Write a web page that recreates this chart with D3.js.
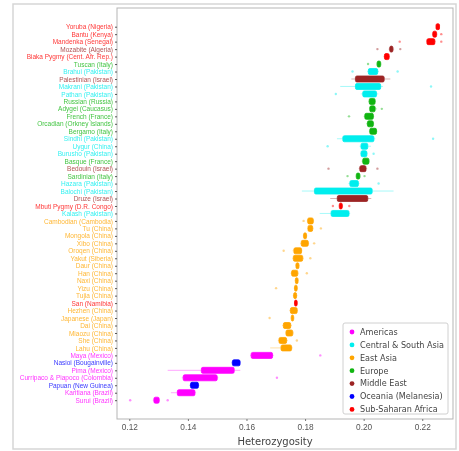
<!DOCTYPE html>
<html>
<head>
<meta charset="utf-8">
<script src="https://cdn.jsdelivr.net/npm/d3@7"></script>
<style>
  body { margin: 0; background: #fff; }
  svg { display: block; font-family: "DejaVu Sans", sans-serif; filter: blur(0.4px); }
</style>
</head>
<body>
<svg width="459" height="451"></svg>
<script>
// populations, top to bottom
const populations = [
  "Yoruba (Nigeria)", "Bantu (Kenya)", "Mandenka (Senegal)", "Mozabite (Algeria)",
  "Biaka Pygmy (Cent. Afr. Rep.)", "Tuscan (Italy)", "Brahui (Pakistan)", "Palestinian (Israel)",
  "Makrani (Pakistan)", "Pathan (Pakistan)", "Russian (Russia)", "Adygei (Caucasus)",
  "French (France)", "Orcadian (Orkney Islands)", "Bergamo (Italy)", "Sindhi (Pakistan)",
  "Uygur (China)", "Burusho (Pakistan)", "Basque (France)", "Bedouin (Israel)",
  "Sardinian (Italy)", "Hazara (Pakistan)", "Balochi (Pakistan)", "Druze (Israel)",
  "Mbuti Pygmy (D.R. Congo)", "Kalash (Pakistan)", "Cambodian (Cambodia)", "Tu (China)",
  "Mongola (China)", "Xibo (China)", "Oroqen (China)", "Yakut (Siberia)",
  "Daur (China)", "Han (China)", "Naxi (China)", "Yizu (China)",
  "Tujia (China)", "San (Namibia)", "Hezhen (China)", "Japanese (Japan)",
  "Dai (China)", "Miaozu (China)", "She (China)", "Lahu (China)",
  "Maya (Mexico)", "Nasioi (Bougainville)", "Pima (Mexico)", "Curripaco & Piapoco (Colombia)",
  "Papuan (New Guinea)", "Karitiana (Brazil)", "Surui (Brazil)"
];

const regions = [
  "Sub-Saharan Africa", "Sub-Saharan Africa", "Sub-Saharan Africa", "Middle East",
  "Sub-Saharan Africa", "Europe", "Central & South Asia", "Middle East",
  "Central & South Asia", "Central & South Asia", "Europe", "Europe",
  "Europe", "Europe", "Europe", "Central & South Asia",
  "Central & South Asia", "Central & South Asia", "Europe", "Middle East",
  "Europe", "Central & South Asia", "Central & South Asia", "Middle East",
  "Sub-Saharan Africa", "Central & South Asia", "East Asia", "East Asia",
  "East Asia", "East Asia", "East Asia", "East Asia",
  "East Asia", "East Asia", "East Asia", "East Asia",
  "East Asia", "Sub-Saharan Africa", "East Asia", "East Asia",
  "East Asia", "East Asia", "East Asia", "East Asia",
  "Americas", "Oceania (Melanesia)", "Americas", "Americas",
  "Oceania (Melanesia)", "Americas", "Americas"
];

// box statistics (heterozygosity)
const whiskerLow = [
  0.2247, 0.2233, 0.2214, 0.2085, 0.2068, 0.2043, 0.2012, 0.1958, 0.1920, 0.1990,
  0.2016, 0.2018, 0.2000, 0.2008, 0.2018, 0.1909, 0.1986, 0.1988, 0.1993, 0.1983,
  0.1972, 0.1948, 0.1789, 0.1886, 0.1914, 0.1850, 0.1806, 0.1807, 0.1792, 0.1783,
  0.1757, 0.1756, 0.1766, 0.1750, 0.1764, 0.1761, 0.1758, 0.1762, 0.1746, 0.1750,
  0.1722, 0.1732, 0.1707, 0.1681, 0.1612, 0.1548, 0.1331, 0.1379, 0.1405, 0.1342,
  0.1280
];
const q1 = [
  0.2247, 0.2236, 0.2216, 0.2089, 0.2071, 0.2046, 0.2016, 0.1972, 0.1972, 0.1997,
  0.2019, 0.2021, 0.2004, 0.2013, 0.2021, 0.1929, 0.1991, 0.1991, 0.1997, 0.1987,
  0.1975, 0.1953, 0.1832, 0.1910, 0.1917, 0.1889, 0.1809, 0.1810, 0.1795, 0.1787,
  0.1762, 0.1760, 0.1769, 0.1754, 0.1767, 0.1764, 0.1761, 0.1764, 0.1750, 0.1753,
  0.1726, 0.1735, 0.1711, 0.1718, 0.1616, 0.1552, 0.1446, 0.1384, 0.1409, 0.1364,
  0.1284
];
const q3 = [
  0.2259, 0.2249, 0.2243, 0.2100, 0.2087, 0.2058, 0.2048, 0.2070, 0.2058, 0.2044,
  0.2039, 0.2039, 0.2033, 0.2033, 0.2044, 0.2035, 0.2014, 0.2011, 0.2018, 0.2008,
  0.1987, 0.1982, 0.2029, 0.2014, 0.1927, 0.1950, 0.1828, 0.1826, 0.1805, 0.1811,
  0.1788, 0.1792, 0.1779, 0.1775, 0.1776, 0.1773, 0.1771, 0.1773, 0.1773, 0.1761,
  0.1751, 0.1758, 0.1737, 0.1754, 0.1689, 0.1578, 0.1558, 0.1500, 0.1436, 0.1424,
  0.1302
];
const whiskerHigh = [
  0.2259, 0.2252, 0.2246, 0.2104, 0.2090, 0.2061, 0.2052, 0.2091, 0.2066, 0.2050,
  0.2042, 0.2045, 0.2036, 0.2036, 0.2047, 0.2040, 0.2025, 0.2014, 0.2021, 0.2012,
  0.1990, 0.1986, 0.2102, 0.2026, 0.1930, 0.1954, 0.1831, 0.1829, 0.1808, 0.1814,
  0.1791, 0.1796, 0.1782, 0.1779, 0.1779, 0.1776, 0.1774, 0.1775, 0.1776, 0.1764,
  0.1755, 0.1762, 0.1741, 0.1758, 0.1693, 0.1581, 0.1579, 0.1504, 0.1439, 0.1428,
  0.1305
];
const fliers = [
  [], [0.2265], [0.2123, 0.2265], [0.2047, 0.2125], [], [0.2015], [0.1962, 0.2116], [],
  [0.2230], [0.1905], [], [0.2062], [0.1950], [], [], [0.2237],
  [0.1877], [0.2034], [], [0.1880, 0.2047], [0.1945, 0.2003], [0.2051], [], [],
  [0.1895, 0.1951], [], [0.1795], [0.1854], [], [0.1831], [0.1727], [0.1818],
  [], [0.1806], [], [0.1701], [], [], [], [0.1679],
  [], [], [0.1772], [], [0.1852], [], [], [0.1704],
  [], [], [0.1203, 0.1331]
];

const xTicks = [0.12, 0.14, 0.16, 0.18, 0.20, 0.22];
const legendRegions = ["Americas", "Central & South Asia", "East Asia", "Europe",
  "Middle East", "Oceania (Melanesia)", "Sub-Saharan Africa"];

const colorScale = d3.scaleOrdinal()
  .domain(legendRegions)
  .range(["#ff00ff", "#00eeee", "#ffa500", "#11b511", "#9c2424", "#0000ff", "#ff0000"]);

const rows = populations.map((name, i) => ({
  name: name, region: regions[i],
  lo: whiskerLow[i], q1: q1[i], q3: q3[i], hi: whiskerHigh[i], fliers: fliers[i]
}));

const svg = d3.select("svg");

// figure border
svg.append("rect")
  .attr("x", 13).attr("y", 4).attr("width", 443).attr("height", 445)
  .attr("fill", "none").attr("stroke", "#d6d6d6").attr("stroke-width", 1.5);

const plot = { left: 117, right: 453, top: 8, bottom: 419 };

const x = d3.scaleLinear()
  .domain([0.1158, 0.2305])
  .range([plot.left, plot.right]);

const y = d3.scalePoint()
  .domain(populations)
  .range([26.7, 400.2]);

// axes frame
svg.append("rect")
  .attr("x", plot.left).attr("y", plot.top)
  .attr("width", plot.right - plot.left).attr("height", plot.bottom - plot.top)
  .attr("fill", "#fff").attr("stroke", "#b5b5b5").attr("stroke-width", 1);

// whiskers
svg.selectAll(".whisker")
  .data(rows)
  .enter().append("line")
  .attr("class", "whisker")
  .attr("x1", d => x(d.lo))
  .attr("x2", d => x(d.hi))
  .attr("y1", d => y(d.name))
  .attr("y2", d => y(d.name))
  .attr("stroke", d => colorScale(d.region))
  .attr("stroke-opacity", 0.35)
  .attr("stroke-width", 1);

// boxes
svg.selectAll(".box")
  .data(rows)
  .enter().append("rect")
  .attr("class", "box")
  .attr("x", d => x(d.q1))
  .attr("y", d => y(d.name) - 3)
  .attr("width", d => Math.max(x(d.q3) - x(d.q1), 2))
  .attr("height", 6)
  .attr("rx", 1.5)
  .attr("fill", d => colorScale(d.region))
  .attr("stroke", d => colorScale(d.region))
  .attr("stroke-width", 0.8);

// outliers
const flierData = rows.flatMap(d => d.fliers.map(v => ({ name: d.name, region: d.region, v: v })));
svg.selectAll(".flier")
  .data(flierData)
  .enter().append("circle")
  .attr("class", "flier")
  .attr("cx", d => x(d.v))
  .attr("cy", d => y(d.name))
  .attr("r", 1.2)
  .attr("fill", d => colorScale(d.region))
  .attr("fill-opacity", 0.45);

// y axis: population labels coloured by region
const yAxis = svg.append("g")
  .attr("transform", `translate(${plot.left},0)`)
  .call(d3.axisLeft(y).tickSize(2).tickPadding(2));
yAxis.select(".domain").remove();
yAxis.selectAll(".tick line").attr("stroke", "#555");
yAxis.selectAll(".tick text")
  .style("font-size", "6.5px")
  .attr("fill", (d, i) => colorScale(regions[i]))
  .attr("fill-opacity", 0.8);

// x axis
const xAxis = svg.append("g")
  .attr("transform", `translate(0,${plot.bottom})`)
  .call(d3.axisBottom(x).tickValues(xTicks).tickFormat(d3.format(".2f")).tickSize(2).tickPadding(3));
xAxis.select(".domain").remove();
xAxis.selectAll(".tick line").attr("stroke", "#777");
xAxis.selectAll(".tick text")
  .style("font-size", "8.3px")
  .attr("fill", "#555");

svg.append("text")
  .attr("x", 275)
  .attr("y", 445)
  .attr("text-anchor", "middle")
  .style("font-size", "10px")
  .attr("fill", "#444")
  .text("Heterozygosity");

// legend
const legend = svg.append("g");
legend.append("rect")
  .attr("x", 343).attr("y", 323).attr("width", 105).attr("height", 91)
  .attr("rx", 2)
  .attr("fill", "#fff").attr("fill-opacity", 0.85)
  .attr("stroke", "#d0d0d0").attr("stroke-width", 1);

legend.selectAll("circle")
  .data(legendRegions)
  .enter().append("circle")
  .attr("cx", 352)
  .attr("cy", (d, i) => 332 + i * 12.9)
  .attr("r", 2.4)
  .attr("fill", d => colorScale(d));

legend.selectAll("text")
  .data(legendRegions)
  .enter().append("text")
  .attr("x", 360)
  .attr("y", (d, i) => 332 + i * 12.9)
  .attr("dy", "0.35em")
  .style("font-size", "8.1px")
  .attr("fill", "#444")
  .text(d => d);
</script>
</body>
</html>
